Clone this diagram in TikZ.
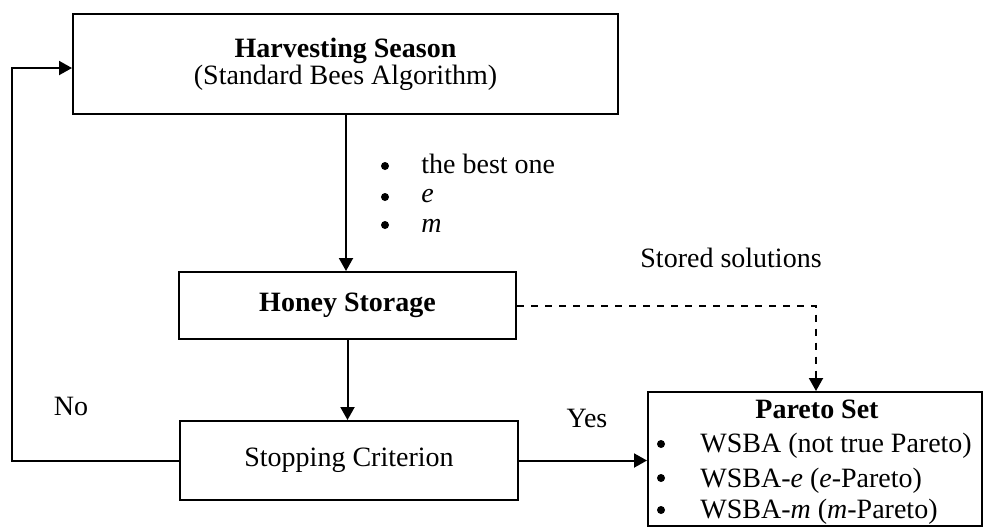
\documentclass[tikz,border=0pt]{standalone}
\usepackage{fontspec}
\setmainfont{Liberation Serif}
\usetikzlibrary{arrows.meta}
\begin{document}
\begin{tikzpicture}[x=0.5pt,y=-0.5pt,
  box/.style={draw,line width=1pt,inner sep=0pt,align=center,font=\fontsize{14}{13.5}\selectfont},
  txt/.style={inner sep=0pt,font=\fontsize{14}{13.5}\selectfont},
  dot/.style={circle,fill,inner sep=0pt,minimum size=4pt},
  arr/.style={line width=1pt,-{Triangle[length=6.5pt,width=7pt]}},
  dsh/.style={line width=1pt,dash pattern=on 3.5pt off 3.5pt,-{Triangle[length=6.5pt,width=7pt]}}]
\useasboundingbox (0,0) rectangle (984,527);
% boxes
\node[box,minimum width=272.5pt,minimum height=50pt] (harvest) at (345.5,64)
  {\textbf{Harvesting Season}\\(Standard Bees Algorithm)};
\node[box,minimum width=168.5pt,minimum height=33.5pt] (honey) at (347.5,305.5)
  {\textbf{Honey Storage}};
\node[box,minimum width=169pt,minimum height=39.5pt] (stop) at (349,460.5)
  {Stopping Criterion};
\node[box,minimum width=167pt,minimum height=67pt] (pareto) at (815,459) {};
% pareto contents
\node[txt,anchor=base] (ptitle) at (817,418) {\textbf{Pareto Set}};
\node[dot] (pb1) at (661,444) {};
\node[dot] (pb2) at (661,478) {};
\node[dot] (pb3) at (661,510) {};
\node[txt,anchor=base west] (pt1) at (700,452) {WSBA (not true Pareto)};
\node[txt,anchor=base west] (pt2) at (700,487) {WSBA-\textit{e} (\textit{e}-Pareto)};
\node[txt,anchor=base west] (pt3) at (700,518) {WSBA-\textit{m} (\textit{m}-Pareto)};
% bullet list between harvest and honey
\node[dot] (b1) at (385,166) {};
\node[dot] (b2) at (385,197) {};
\node[dot] (b3) at (385,225) {};
\node[txt,anchor=base west] (l1) at (421,173) {the best one};
\node[txt,anchor=base west] (l2) at (421,202) {\textit{e}};
\node[txt,anchor=base west] (l3) at (421,232) {\textit{m}};
% labels
\node[txt,anchor=base] (no) at (71,415) {No};
\node[txt,anchor=base] (yes) at (587,427) {Yes};
\node[txt,anchor=base west] (stored) at (640,267) {Stored solutions};
% connectors
\coordinate (lc) at (12,460.5);
\coordinate (dc) at (816,305.5);
\draw[arr] (harvest.south -| 346,0) -- (honey.north -| 346,0);
\draw[arr] (honey.south) -- (honey.south |- stop.north);
\draw[arr] (stop.east) -- (stop.east -| pareto.west);
\draw[arr] (stop.west) -- (lc) |- ([yshift=-2pt]harvest.west);
\draw[dsh] (honey.east) -- (dc) -- (dc |- pareto.north);
\end{tikzpicture}
\end{document}
